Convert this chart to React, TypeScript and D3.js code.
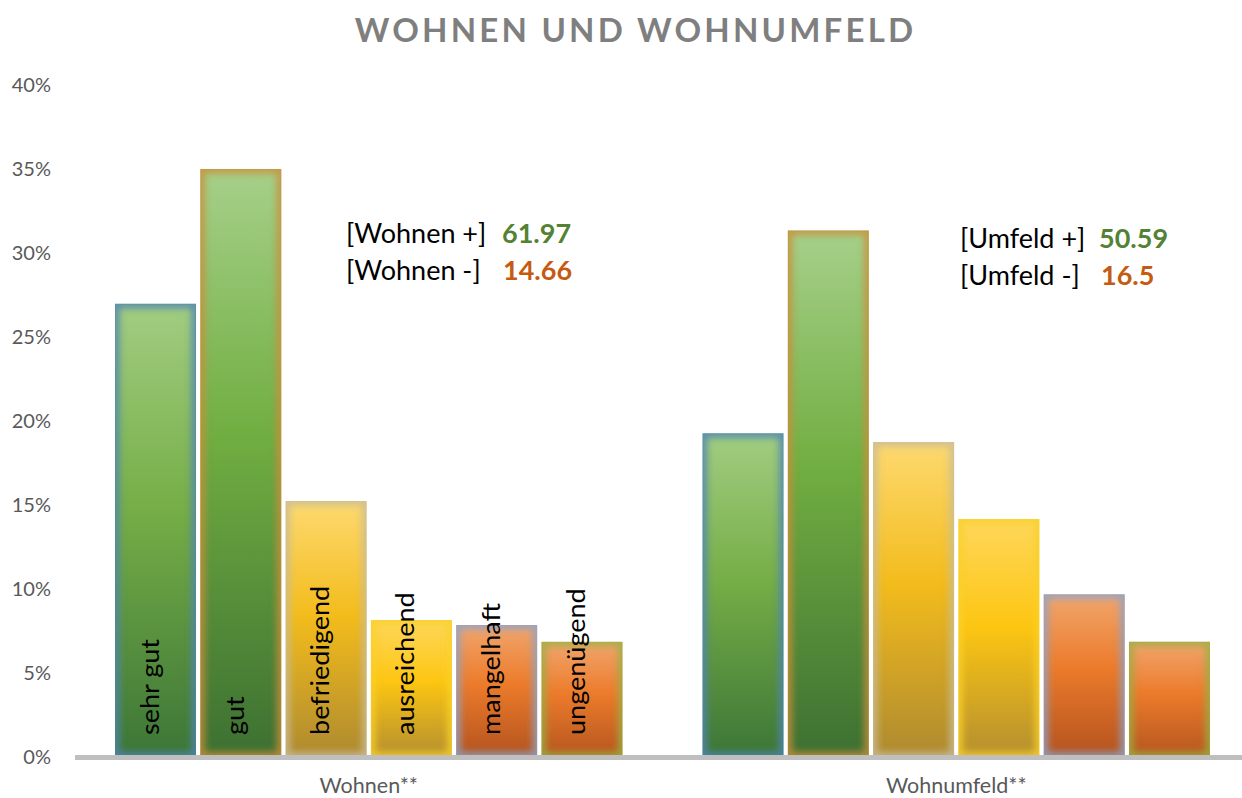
import React from "react";
import * as d3 from "d3";

const categories = ["sehr gut", "gut", "befriedigend", "ausreichend", "mangelhaft", "ungenügend"];
const groups = ["Wohnen**", "Wohnumfeld**"];
const wohnenValues = [26.97, 35.0, 15.22, 8.13, 7.83, 6.83];
const umfeldValues = [19.25, 31.34, 18.73, 14.14, 9.66, 6.84];
const yTicks = [0, 5, 10, 15, 20, 25, 30, 35, 40];
const summaryLabels = [["[Wohnen +]", "[Wohnen -]"], ["[Umfeld +]", "[Umfeld -]"]];
const summaryValues = [["61.97", "14.66"], ["50.59", "16.5"]];
const title = "WOHNEN UND WOHNUMFELD";

// gradient stops per category: [top, mid, bottom], plus edge glow colour
const gradTop = ["#a2cd82", "#a6d08a", "#fdd970", "#fed75c", "#f1a66e", "#f1a66e"];
const gradMid = ["#76ae47", "#71ae41", "#f3bc1c", "#fdc612", "#ec7b2b", "#ec7b2b"];
const gradBot = ["#3d7637", "#3d7032", "#ae8a30", "#b48f30", "#b4531f", "#b6561f"];
const edgeCol = ["#4f85b2", "#c98f3a", "#c9bc96", "#f9d02a", "#8fa3c6", "#9cae42"];

const W = 1242;
const H = 798;
const FONT = "Lato, 'Open Sans', sans-serif";

export default function App() {
  const seriesByGroup = [wohnenValues, umfeldValues];
  const x0 = d3.scaleBand<string>().domain(groups).range([75, 1250]).paddingInner(0).paddingOuter(0);
  const x1 = d3
    .scaleBand<string>()
    .domain(categories)
    .range([40, x0.bandwidth() - 40])
    .paddingInner(0.05)
    .paddingOuter(0);
  const y = d3.scaleLinear().domain([0, 40]).range([756.5, 85]);

  return (
    <svg width={W} height={H} style={{ position: "absolute", left: 0, top: 0, background: "#fff" }}>
      <defs>
        {categories.map((c, j) => (
          <linearGradient key={c} id={`grad-${j}`} x1="0" y1="0" x2="0" y2="1">
            <stop offset="0" stopColor={gradTop[j]} />
            <stop offset="0.45" stopColor={gradMid[j]} />
            <stop offset="1" stopColor={gradBot[j]} />
          </linearGradient>
        ))}
        <filter id="blur" x="-20%" y="-20%" width="140%" height="140%">
          <feGaussianBlur stdDeviation="3.5" />
        </filter>
        {groups.map((g, i) =>
          categories.map((c, j) => {
            const v = seriesByGroup[i][j];
            const bx = (x0(g) as number) + (x1(c) as number);
            return (
              <clipPath key={`${i}-${j}`} id={`clip-${i}-${j}`}>
                <rect x={bx} y={y(v)} width={x1.bandwidth()} height={y(0) - y(v)} />
              </clipPath>
            );
          })
        )}
      </defs>

      {/* title */}
      <text
        x={634 + 1.6}
        y={42}
        textAnchor="middle"
        fontFamily={FONT}
        fontWeight="bold"
        fontSize={33}
        letterSpacing={3.2}
        fill="#7f7f7f"
      >
        {title}
      </text>

      {/* y tick labels */}
      {yTicks.map((t) => (
        <text
          key={t}
          x={51}
          y={y(t)}
          dy="0.36em"
          textAnchor="end"
          fontFamily={FONT}
          fontSize={20}
          fill="#595959"
        >
          {`${t}%`}
        </text>
      ))}

      {/* bars */}
      {groups.map((g, i) =>
        categories.map((c, j) => {
          const v = seriesByGroup[i][j];
          const bx = (x0(g) as number) + (x1(c) as number);
          const by = y(v);
          const bw = x1.bandwidth();
          const bh = y(0) - by;
          return (
            <g key={`${i}-${j}`}>
              <g clipPath={`url(#clip-${i}-${j})`}>
                <rect x={bx} y={by} width={bw} height={bh} fill={`url(#grad-${j})`} />
                <rect
                  x={bx}
                  y={by}
                  width={bw}
                  height={bh}
                  fill="none"
                  stroke={edgeCol[j]}
                  strokeWidth={9}
                  opacity={0.85}
                  filter="url(#blur)"
                />
              </g>
              <rect
                x={bx + 0.5}
                y={by + 0.5}
                width={bw - 1}
                height={bh - 1}
                fill="none"
                stroke={edgeCol[j]}
                strokeWidth={1}
                opacity={0.3}
              />
            </g>
          );
        })
      )}

      {/* rotated category labels inside Wohnen bars */}
      {categories.map((c, j) => {
        const cx = (x0(groups[0]) as number) + (x1(c) as number) + x1.bandwidth() / 2 + 3;
        return (
          <text
            key={c}
            transform={`translate(${cx},${735}) rotate(-90) scale(1.06,1)`}
            fontFamily={FONT}
            fontSize={25.5}
            fill="#000"
          >
            {c}
          </text>
        );
      })}

      {/* x axis line */}
      <line x1={75} x2={W} y1={757.5} y2={757.5} stroke="#bfbfbf" strokeWidth={5} />

      {/* group labels */}
      {groups.map((g) => (
        <text
          key={g}
          x={(x0(g) as number) + x0.bandwidth() / 2}
          y={793}
          textAnchor="middle"
          fontFamily={FONT}
          fontSize={21.5}
          fill="#595959"
        >
          {g}
        </text>
      ))}

      {/* summary annotations */}
      {[
        { lx: 346, nx: [502, 503], by: [243, 280] },
        { lx: 960, nx: [1099, 1101], by: [248, 285] },
      ].map((pos, i) => (
        <g key={i}>
          {summaryLabels[i].map((lab, k) => (
            <g key={k}>
              <text x={pos.lx} y={pos.by[k]} fontFamily={FONT} fontSize={27} fill="#000">
                {lab}
              </text>
              <text
                x={pos.nx[k]}
                y={pos.by[k]}
                fontFamily={FONT}
                fontSize={27}
                fontWeight="bold"
                fill={k === 0 ? "#548235" : "#c55a11"}
              >
                {summaryValues[i][k]}
              </text>
            </g>
          ))}
        </g>
      ))}
    </svg>
  );
}
